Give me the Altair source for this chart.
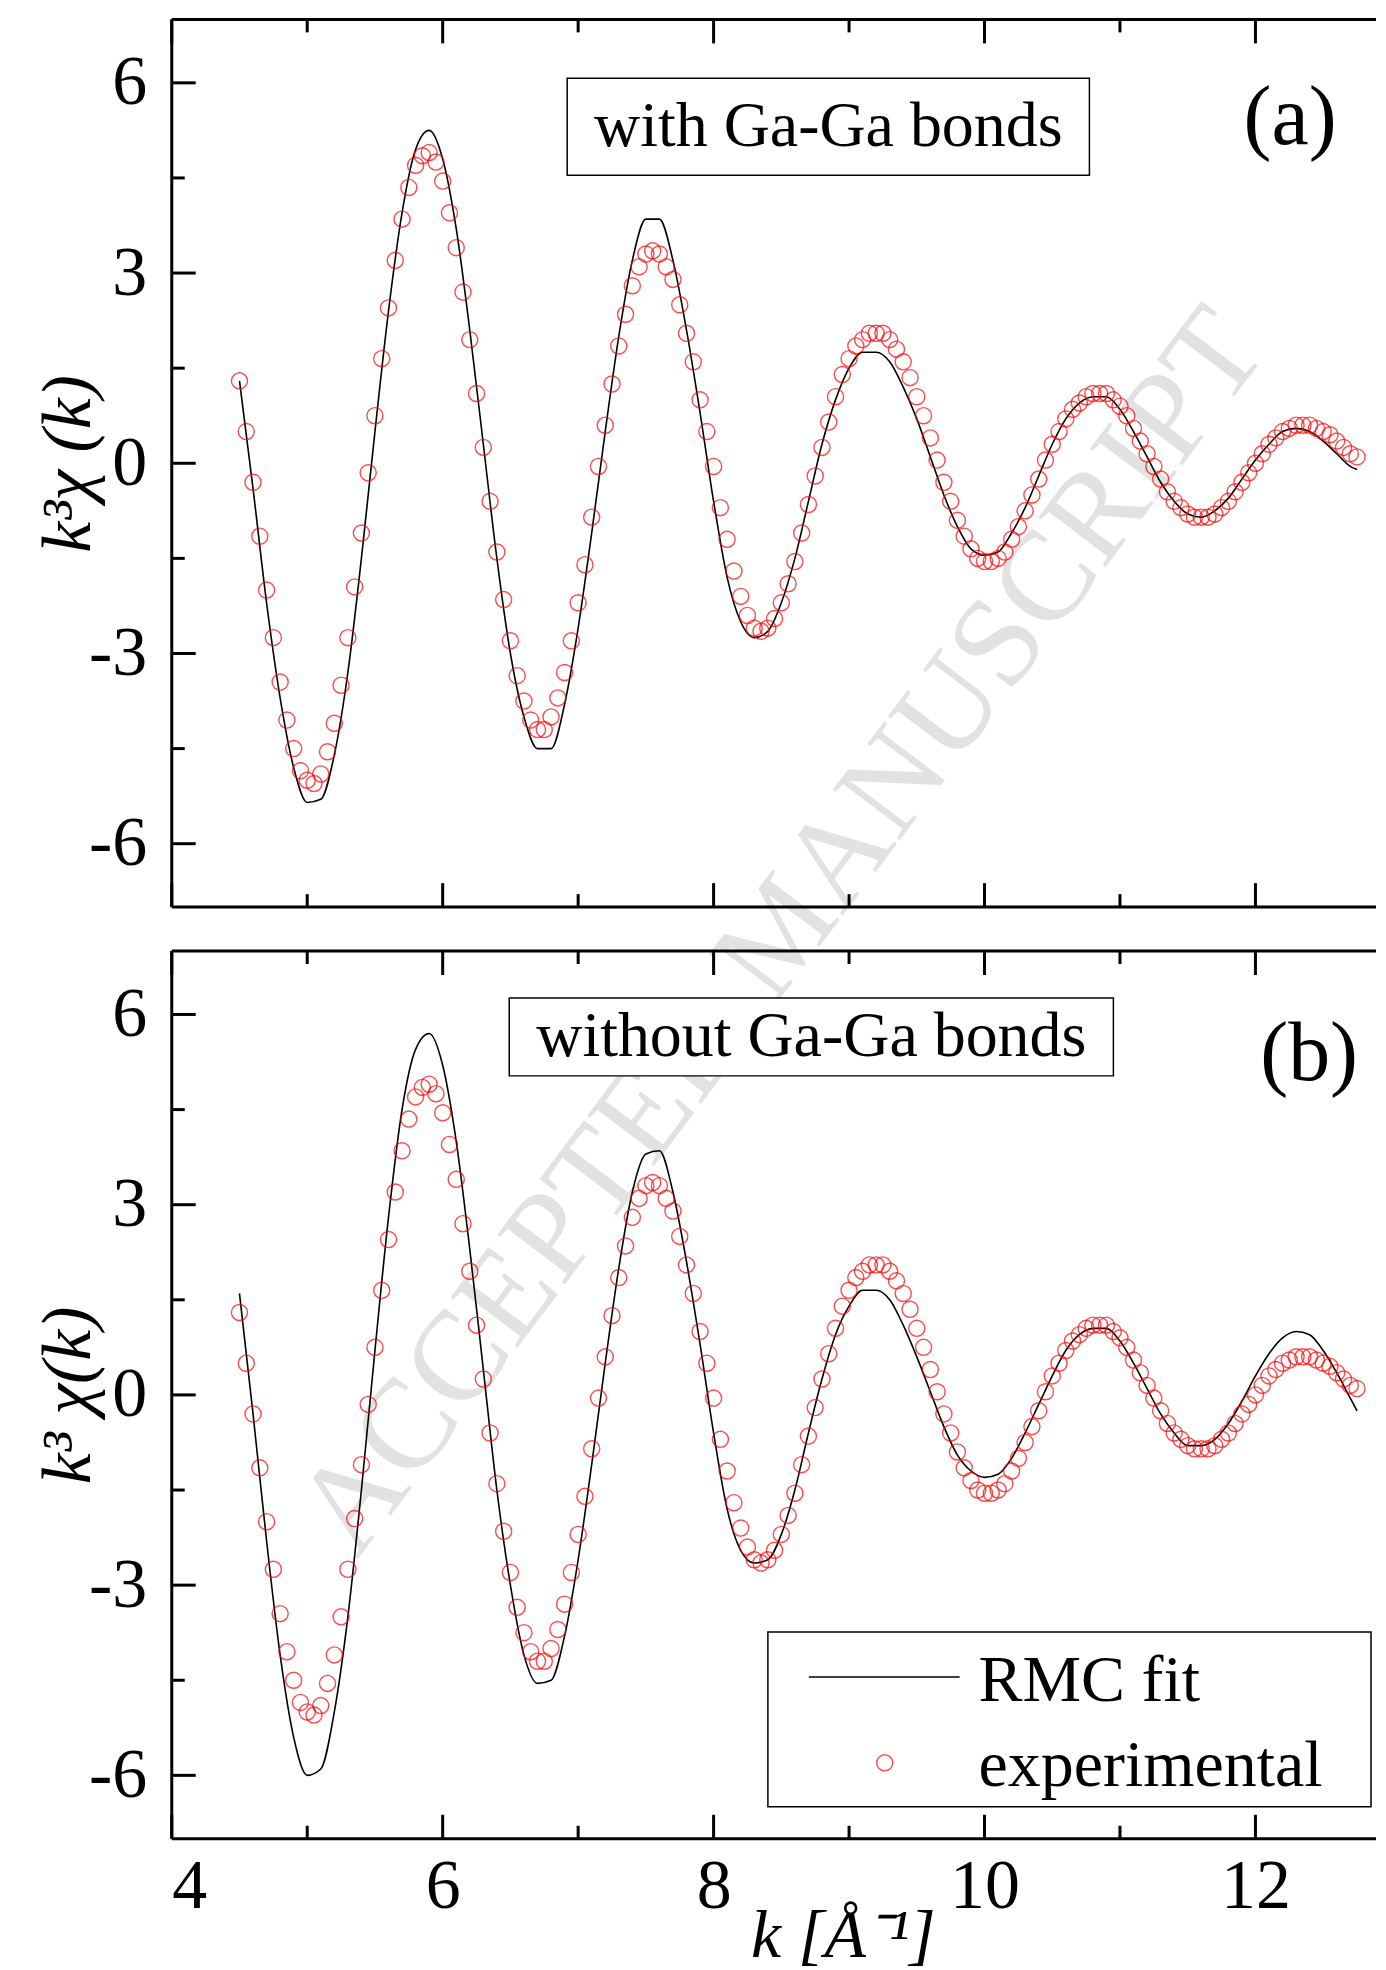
import altair as alt
import pandas as pd

# experimental k^3 chi(k), k = 4.50 ... 12.75 in steps of 0.05
exp_chi = [
    1.3, 0.5, -0.3, -1.15, -2.0, -2.75, -3.45, -4.05, -4.5, -4.85,
    -5.0, -5.05, -4.9, -4.55, -4.1, -3.5, -2.75, -1.95, -1.1, -0.15,
    0.75, 1.65, 2.45, 3.2, 3.85, 4.35, 4.7, 4.85, 4.9, 4.75,
    4.45, 3.95, 3.4, 2.7, 1.95, 1.1, 0.25, -0.6, -1.4, -2.15,
    -2.8, -3.35, -3.75, -4.05, -4.2, -4.2, -4.0, -3.7, -3.3, -2.8,
    -2.2, -1.6, -0.85, -0.05, 0.6, 1.25, 1.85, 2.35, 2.8, 3.1,
    3.3, 3.35, 3.3, 3.1, 2.9, 2.5, 2.05, 1.6, 1.0, 0.5,
    -0.05, -0.7, -1.2, -1.7, -2.1, -2.4, -2.6, -2.65, -2.6, -2.45,
    -2.2, -1.9, -1.55, -1.1, -0.65, -0.2, 0.25, 0.65, 1.05, 1.4,
    1.65, 1.85, 1.95, 2.05, 2.05, 2.05, 1.95, 1.8, 1.6, 1.35,
    1.05, 0.75, 0.4, 0.05, -0.3, -0.6, -0.9, -1.15, -1.35, -1.5,
    -1.55, -1.55, -1.5, -1.4, -1.2, -1.0, -0.75, -0.5, -0.25, 0.05,
    0.3, 0.5, 0.7, 0.85, 0.95, 1.05, 1.1, 1.1, 1.1, 1.0,
    0.9, 0.75, 0.55, 0.35, 0.15, -0.05, -0.25, -0.45, -0.6, -0.7,
    -0.8, -0.85, -0.85, -0.85, -0.8, -0.7, -0.6, -0.45, -0.3, -0.15,
    0.0, 0.15, 0.3, 0.4, 0.5, 0.55, 0.6, 0.6, 0.6, 0.55,
    0.5, 0.45, 0.35, 0.25, 0.15, 0.1,
]
k_exp = [round(4.5 + 0.05 * i, 2) for i in range(len(exp_chi))]

# RMC fits, k = 4.5 ... 12.7 in steps of 0.1, then 12.75
fit_a = [
    1.3, -0.4, -2.2, -3.7, -4.8, -5.35, -5.3, -4.6, -3.3, -1.5,
    0.5, 2.4, 3.95, 4.95, 5.25, 4.8, 3.7, 2.1, 0.3, -1.5,
    -3.0, -4.0, -4.5, -4.5, -3.8, -2.6, -1.1, 0.5, 2.0, 3.2,
    3.85, 3.85, 3.2, 2.1, 0.8, -0.6, -1.8, -2.5, -2.75, -2.65,
    -2.2, -1.5, -0.6, 0.3, 1.0, 1.5, 1.75, 1.75, 1.6, 1.2,
    0.7, 0.1, -0.5, -1.0, -1.35, -1.45, -1.4, -1.1, -0.7, -0.2,
    0.3, 0.7, 0.95, 1.05, 1.05, 0.85, 0.5, 0.1, -0.3, -0.6,
    -0.8, -0.85, -0.75, -0.55, -0.25, 0.05, 0.3, 0.5, 0.55, 0.5,
    0.35, 0.15, -0.05, -0.1,
]
fit_b = [
    1.6, -0.3, -2.3, -4.1, -5.4, -6.0, -5.9, -5.0, -3.5, -1.5,
    0.7, 2.8, 4.5, 5.45, 5.7, 5.2, 4.0, 2.3, 0.4, -1.5,
    -3.0, -4.1, -4.55, -4.5, -3.8, -2.6, -1.1, 0.5, 2.0, 3.2,
    3.8, 3.85, 3.2, 2.1, 0.8, -0.6, -1.8, -2.45, -2.65, -2.6,
    -2.2, -1.5, -0.6, 0.25, 0.95, 1.4, 1.65, 1.65, 1.5, 1.1,
    0.6, 0.05, -0.5, -0.95, -1.2, -1.3, -1.25, -1.0, -0.6, -0.15,
    0.3, 0.7, 0.95, 1.05, 1.05, 0.85, 0.5, 0.1, -0.3, -0.6,
    -0.8, -0.8, -0.7, -0.45, -0.1, 0.3, 0.65, 0.9, 1.0, 0.95,
    0.7, 0.35, -0.05, -0.25,
]
k_fit = [round(4.5 + 0.1 * i, 1) for i in range(83)] + [12.75]

x_major = [4, 6, 8, 10, 12]
x_minor = [5, 7, 9, 11]
y_major = [-6, -3, 0, 3, 6]
y_minor = [-4.5, -1.5, 1.5, 4.5]

W, H = 1206, 889
FONT = "Liberation Serif"

xs = alt.Scale(domain=[4, 12.89], nice=False)
ys = alt.Scale(domain=[-7, 7], nice=False)

exp_df = pd.DataFrame({"k": k_exp, "chi": exp_chi})
one = pd.DataFrame({"t": ["frame"]})


def panel(fit, ytitle, box_text, box_x, box_y, box_w, box_h, tag, tag_x, tag_y, bottom):
    fit_df = pd.DataFrame({"k": k_fit, "chi": fit})
    if bottom:
        xaxis = alt.Axis(values=x_major, labelFontSize=70, labelFont=FONT, ticks=False,
                         domain=False, grid=False, labelPadding=14, labelExpr="datum.value",
                         title="k [Å⁻¹]", titleFont=FONT, titleFontSize=68,
                         titleFontWeight="normal", titleFontStyle="italic",
                         titleX=672, titleY=118, titleBaseline="alphabetic")
        xenc = alt.X("k:Q", scale=xs, axis=xaxis)
    else:
        xenc = alt.X("k:Q", scale=xs, axis=None)
    yenc = alt.Y("chi:Q", scale=ys, axis=alt.Axis(
        values=y_major, labelFontSize=70, labelFont=FONT, ticks=False, domain=False,
        grid=False, labelPadding=25, labelExpr="datum.value", title=ytitle, titleFont=FONT,
        titleFontSize=70, titleFontWeight="normal", titleFontStyle="italic", titleX=-103,
        titleY=H / 2, titleBaseline="middle", minExtent=159, maxExtent=159))

    line = alt.Chart(fit_df).mark_line(color="black", strokeWidth=1.6,
                                       interpolate="monotone").encode(x=xenc, y=yenc)
    pts = alt.Chart(exp_df).mark_point(shape="circle", color="red", size=260,
                                       strokeWidth=1.4, filled=False).encode(x="k:Q", y="chi:Q")

    # frame on left, top and bottom (the right side runs off the page)
    frame = [
        alt.Chart(one).mark_rule(color="black", strokeWidth=3).encode(
            x=alt.value(0), y=alt.value(0), y2=alt.value(H)),
        alt.Chart(one).mark_rule(color="black", strokeWidth=3).encode(
            x=alt.value(0), x2=alt.value(W), y=alt.value(0)),
        alt.Chart(one).mark_rule(color="black", strokeWidth=3).encode(
            x=alt.value(0), x2=alt.value(W), y=alt.value(H)),
    ]

    ymaj = pd.DataFrame({"v": y_major})
    ymin = pd.DataFrame({"v": y_minor})
    xmaj = pd.DataFrame({"v": x_major})
    xmin = pd.DataFrame({"v": x_minor})
    ticks = []
    for df, ln in ((ymaj, 24), (ymin, 13)):
        ticks.append(alt.Chart(df).mark_rule(color="black", strokeWidth=3).encode(
            y=alt.Y("v:Q", scale=ys), x=alt.value(0), x2=alt.value(ln)))
    for df, ln in ((xmaj, 24), (xmin, 13)):
        ticks.append(alt.Chart(df).mark_rule(color="black", strokeWidth=3).encode(
            x=alt.X("v:Q", scale=xs), y=alt.value(0), y2=alt.value(ln)))
        ticks.append(alt.Chart(df).mark_rule(color="black", strokeWidth=3).encode(
            x=alt.X("v:Q", scale=xs), y=alt.value(H), y2=alt.value(H - ln)))

    box = alt.Chart(pd.DataFrame({"t": [box_text]})).mark_rect(
        fill="white", stroke="black", strokeWidth=1.5).encode(
        x=alt.value(box_x), x2=alt.value(box_x + box_w),
        y=alt.value(box_y), y2=alt.value(box_y + box_h))
    box_t = alt.Chart(pd.DataFrame({"t": [box_text]})).mark_text(
        font=FONT, fontSize=64, align="center", baseline="middle").encode(
        x=alt.value(box_x + box_w / 2), y=alt.value(box_y + box_h / 2), text="t:N")
    tag_t = alt.Chart(pd.DataFrame({"t": [tag]})).mark_text(
        font=FONT, fontSize=84, align="center", baseline="middle").encode(
        x=alt.value(tag_x), y=alt.value(tag_y), text="t:N")

    layers = [line, pts] + frame + ticks + [box, box_t, tag_t]
    return alt.layer(*layers).properties(width=W, height=H)


top = panel(fit_a, "k³χ (k)", "with Ga-Ga bonds", 396, 59, 523, 97, "(a)", 1120, 100, False)

mark = alt.Chart(pd.DataFrame({"t": ["ACCEPTED MANUSCRIPT"]})).mark_text(
    font=FONT, fontSize=128, color="#e2e2e2", angle=307, align="center",
    baseline="middle").encode(x=alt.value(612), y=alt.value(914), text="t:N")
top = alt.layer(mark, top)

bot = panel(fit_b, "k³ χ(k)", "without Ga-Ga bonds", 338, 47, 605, 78, "(b)", 1139, 104, True)

legend_line = alt.Chart(pd.DataFrame({"t": ["RMC fit"]})).mark_rule(
    color="black", strokeWidth=1.6).encode(x=alt.value(638), x2=alt.value(789),
                                           y=alt.value(727))
legend_box = alt.Chart(pd.DataFrame({"t": ["box"]})).mark_rect(
    fill="white", stroke="black", strokeWidth=1.5).encode(
    x=alt.value(597), x2=alt.value(1201), y=alt.value(682), y2=alt.value(857))
legend_pt = alt.Chart(pd.DataFrame({"t": ["experimental"]})).mark_point(
    shape="circle", color="red", size=260, strokeWidth=1.4, filled=False).encode(
    x=alt.value(714), y=alt.value(813))
legend_txt = alt.Chart(pd.DataFrame({"t": ["RMC fit", "experimental"], "y": [731, 816]})).mark_text(
    font=FONT, fontSize=66, align="left", baseline="middle").encode(
    x=alt.value(808), y=alt.Y("y:Q", scale=None), text="t:N")

bot = alt.layer(bot, legend_box, legend_line, legend_pt, legend_txt)

chart = alt.vconcat(top, bot, spacing=44, bounds="flush").properties(
    padding={"left": 5, "top": 8, "right": 0, "bottom": 0}, background="white"
).configure_view(strokeWidth=0)

chart.save("out.html", embed_options={"renderer": "svg", "actions": False})
